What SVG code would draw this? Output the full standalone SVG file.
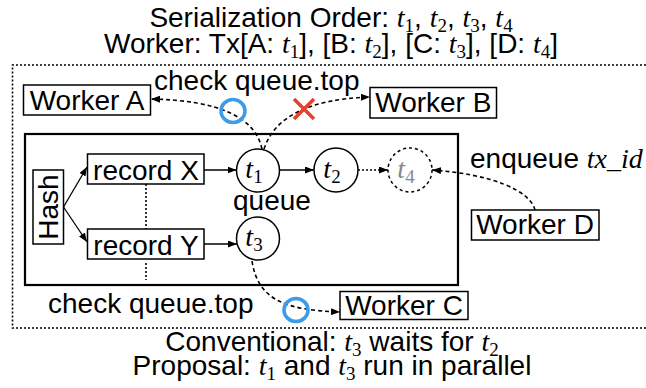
<svg xmlns="http://www.w3.org/2000/svg" width="646" height="388" viewBox="0 0 646 388">
<style>
text{font-family:"Liberation Sans",Arial,sans-serif;font-size:28px;fill:#000}
.t{font-family:"Liberation Serif","Times New Roman",serif;font-style:italic}
.s{font-family:"Liberation Serif","Times New Roman",serif;font-size:19px}
.box{fill:#fff;stroke:#000;stroke-width:1.5}
.circ{fill:#fff;stroke:#000;stroke-width:1.5}
.ln{fill:none;stroke:#000;stroke-width:1.3}
.dash{fill:none;stroke:#000;stroke-width:1.6;stroke-dasharray:4 3}
.dot{fill:none;stroke:#000;stroke-width:1.6;stroke-dasharray:2 2}
.ok{fill:none;stroke:#3d9be9;stroke-width:3.5}
.ng{fill:none;stroke:#e5412b;stroke-width:3.5}
</style>
<defs>
<marker id="ah" markerUnits="userSpaceOnUse" markerWidth="9" markerHeight="7" refX="9" refY="3.5" orient="auto">
<path d="M0,0 L9,3.5 L0,7 z" fill="#000"/>
</marker>
</defs>
<!-- titles -->
<text x="331" y="27" text-anchor="middle" font-size="27">Serialization Order: <tspan class="t">t</tspan><tspan class="s" dy="5">1</tspan><tspan dy="-5">, </tspan><tspan class="t">t</tspan><tspan class="s" dy="5">2</tspan><tspan dy="-5">, </tspan><tspan class="t">t</tspan><tspan class="s" dy="5">3</tspan><tspan dy="-5">, </tspan><tspan class="t">t</tspan><tspan class="s" dy="5">4</tspan></text>
<text x="331" y="53" text-anchor="middle" font-size="27">Worker: Tx[A: <tspan class="t">t</tspan><tspan class="s" dy="5">1</tspan><tspan dy="-5">], [B: </tspan><tspan class="t">t</tspan><tspan class="s" dy="5">2</tspan><tspan dy="-5">], [C: </tspan><tspan class="t">t</tspan><tspan class="s" dy="5">3</tspan><tspan dy="-5">], [D: </tspan><tspan class="t">t</tspan><tspan class="s" dy="5">4</tspan><tspan dy="-5">]</tspan></text>
<!-- outer dotted region -->
<path class="dot" d="M646 65 H12.5 V328 H646"/>
<!-- main box -->
<rect x="25" y="134" width="433" height="151" fill="none" stroke="#000" stroke-width="2.2"/>
<g id="hash"><rect class="box" x="33" y="170" width="30.5" height="74"/><text transform="translate(58,207) rotate(-90)" text-anchor="middle">Hash</text></g>
<g id="recordX"><rect class="box" x="87.5" y="154" width="116.5" height="30"/><text x="146" y="180" text-anchor="middle" font-size="29">record X</text></g>
<g id="recordY"><rect class="box" x="87.5" y="229" width="116.5" height="30"/><text x="146" y="255" text-anchor="middle" font-size="29">record Y</text></g>
<g id="t1"><circle class="circ" cx="258" cy="170.5" r="21.5"/><text x="254" y="178" text-anchor="middle"><tspan class="t">t</tspan><tspan class="s" dy="5">1</tspan></text></g>
<g id="t2"><circle class="circ" cx="336" cy="170" r="22"/><text x="332" y="178" text-anchor="middle"><tspan class="t">t</tspan><tspan class="s" dy="5">2</tspan></text></g>
<g id="t4"><circle cx="410" cy="170" r="22" fill="#fff" stroke="#000" stroke-width="1.5" stroke-dasharray="3 3"/><text x="406" y="178" text-anchor="middle" style="fill:#888"><tspan class="t" style="fill:#888">t</tspan><tspan class="s" dy="5" style="fill:#888">4</tspan></text></g>
<g id="t3"><circle class="circ" cx="258" cy="238.5" r="21.5"/><text x="254" y="246" text-anchor="middle"><tspan class="t">t</tspan><tspan class="s" dy="5">3</tspan></text></g>
<text id="queue" x="233" y="210">queue</text>
<g id="workerA"><rect class="box" x="23.5" y="85" width="127" height="30"/><text x="87" y="109.5" text-anchor="middle">Worker A</text></g>
<g id="workerB"><rect class="box" x="370" y="87.5" width="126.5" height="30.5"/><text x="433.3" y="112" text-anchor="middle">Worker B</text></g>
<g id="workerC"><rect class="box" x="340" y="291.5" width="128" height="28"/><text x="404" y="314.5" text-anchor="middle">Worker C</text></g>
<g id="workerD"><rect class="box" x="471.5" y="210" width="127.5" height="30"/><text x="535" y="234" text-anchor="middle">Worker D</text></g>
<!-- labels -->
<text x="154" y="90" font-size="29">check queue.top</text>
<text x="48" y="313" font-size="29">check queue.top</text>
<text x="470" y="168">enqueue <tspan class="t">tx_id</tspan></text>
<text x="332" y="351" text-anchor="middle">Conventional: <tspan class="t">t</tspan><tspan class="s" dy="5">3</tspan><tspan dy="-5"> waits for </tspan><tspan class="t">t</tspan><tspan class="s" dy="5">2</tspan></text>
<text x="332" y="375" text-anchor="middle">Proposal: <tspan class="t">t</tspan><tspan class="s" dy="5">1</tspan><tspan dy="-5"> and </tspan><tspan class="t">t</tspan><tspan class="s" dy="5">3</tspan><tspan dy="-5"> run in parallel</tspan></text>
<!-- connectors -->
<g id="connectors">
<path class="ln" d="M63.5 207 L87 167" marker-end="url(#ah)"/>
<path class="ln" d="M63.5 207 L87 242" marker-end="url(#ah)"/>
<path class="ln" d="M204 170 L236.5 170" marker-end="url(#ah)"/>
<path class="ln" d="M279.5 170 L314 170" marker-end="url(#ah)"/>
<path class="dot" d="M358 170 L388 170" marker-end="url(#ah)"/>
<path class="ln" d="M204 244 L237 244" marker-end="url(#ah)"/>
<path class="dot" d="M146 184 V229"/>
<path class="dot" d="M146 263 V280"/>
<path class="dash" d="M262 149 Q252 101 151 99" marker-end="url(#ah)"/>
<path class="dash" d="M264 149 Q280 100 370 97" marker-end="url(#ah)"/>
<path class="dash" d="M252 261 C258 300 285 310 340 312" marker-end="url(#ah)"/>
<path class="dash" d="M535 210 C530 190 490 174 432 170" marker-end="url(#ah)"/>
</g>
<ellipse class="ok" cx="233" cy="111" rx="12" ry="11.5"/>
<ellipse class="ok" cx="296" cy="310" rx="12" ry="11.5"/>
<path class="ng" d="M294 99 L314 119 M314 99 L294 119"/>
</svg>
